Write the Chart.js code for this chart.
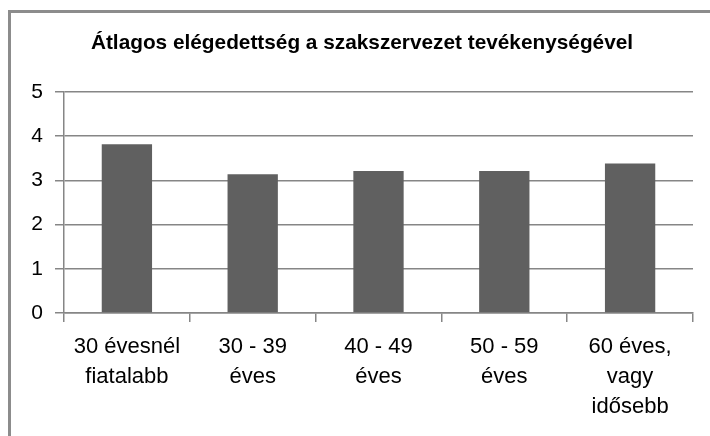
<!DOCTYPE html>
<html>
<head>
<meta charset="utf-8">
<script src="https://cdn.jsdelivr.net/npm/chart.js@4.4.0/dist/chart.umd.min.js"></script>
<style>
  html, body { margin: 0; padding: 0; background: #ffffff; overflow: hidden; }
  #wrap { position: relative; width: 710px; height: 436px; overflow: hidden; background: #fff; }
  #frame { position: absolute; left: 8px; top: 10px; width: 800px; height: 600px; border: 3px solid #8c8c8c; box-sizing: border-box; }
  canvas { position: absolute; left: 0; top: 0; }
</style>
</head>
<body>
<div id="wrap">
  <div id="frame"></div>
  <canvas id="c" width="710" height="436"></canvas>
</div>
<script>
const titleText = "Átlagos elégedettség a szakszervezet tevékenységével";
const categories = [
  ["30 évesnél", "fiatalabb"],
  ["30 - 39", "éves"],
  ["40 - 49", "éves"],
  ["50 - 59", "éves"],
  ["60 éves,", "vagy", "idősebb"]
];
const values = [3.82, 3.14, 3.21, 3.21, 3.38];
const yMin = 0, yMax = 5, yStep = 1;

const FONT = "'Liberation Sans', Arial, sans-serif";
const gridColor = '#868686';

new Chart(document.getElementById('c'), {
  type: 'bar',
  data: {
    labels: categories,
    datasets: [{
      data: values,
      backgroundColor: '#606060',
      borderWidth: 0,
      barPercentage: 0.4,
      categoryPercentage: 1.0
    }]
  },
  options: {
    responsive: false,
    animation: false,
    events: [],
    layout: { padding: { left: 31, right: 17, top: 31, bottom: 0 } },
    plugins: {
      legend: { display: false },
      tooltip: { enabled: false },
      title: {
        display: true,
        text: titleText,
        color: '#000000',
        font: { family: FONT, size: 20.8, weight: 'bold', lineHeight: 1.2 },
        padding: { top: 0, bottom: 36 }
      }
    },
    scales: {
      x: {
        offset: true,
        grid: {
          display: true,
          offset: true,
          drawOnChartArea: false,
          drawTicks: true,
          tickLength: 9,
          color: gridColor,
          lineWidth: 1.5
        },
        border: { display: true, color: gridColor, width: 1.5 },
        ticks: {
          color: '#000000',
          font: { family: FONT, size: 22, lineHeight: 1.364 },
          padding: 10,
          maxRotation: 0,
          autoSkip: false
        },
        afterFit: (s) => { s.height = 123; }
      },
      y: {
        min: yMin,
        max: yMax,
        grid: {
          color: gridColor,
          lineWidth: 1.5,
          tickLength: 9,
          drawTicks: true
        },
        border: { display: true, color: gridColor, width: 1.5 },
        ticks: {
          stepSize: yStep,
          color: '#000000',
          font: { family: FONT, size: 21 },
          padding: 12
        },
        afterFit: (s) => { s.width = 33; }
      }
    }
  }
});
</script>
</body>
</html>
